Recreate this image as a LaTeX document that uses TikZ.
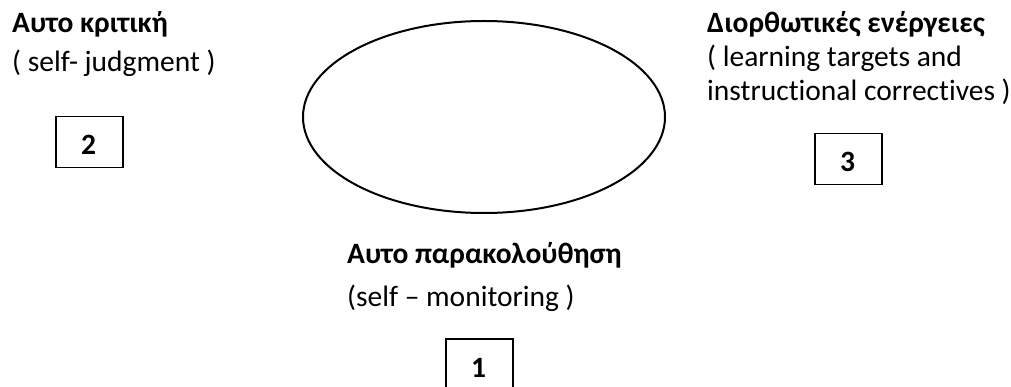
\documentclass[tikz,border=0pt]{standalone}
\usepackage{fontspec}
\setmainfont{Carlito}[Ligatures=CommonOff]
\usetikzlibrary{shapes.geometric}
\tikzset{
  txt/.style={anchor=base west, inner sep=0pt, font=\fontsize{29.5}{35}\selectfont},
  btxt/.style={txt, font=\fontsize{29.5}{35}\selectfont\bfseries},
  numbox/.style={draw, line width=1.5pt, minimum width=67pt, minimum height=51pt, inner sep=0pt, anchor=north west},
  num/.style={anchor=base, inner sep=0pt, font=\fontsize{29.5}{35}\selectfont\bfseries},
  oval/.style={draw, ellipse, line width=2pt, minimum width=362pt, minimum height=192pt, inner sep=0pt}
}
\begin{document}
\begin{tikzpicture}[x=1pt,y=-1pt]
\useasboundingbox (0,0) rectangle (1011,387);
% ellipse
\node[oval] (cycle) at (484,117) {};
% left
\node[btxt] (t2a) at (12,33) {Αυτο κριτική};
\node[txt] (t2b) at (12,72) {( self- judgment )};
\node[numbox] (b2) at (55,116) {};
\node[num] (n2) at (88.5,155) {2};
% right
\node[btxt] (t3a) at (707,33) {Διορθωτικές ενέργειες};
\node[txt] (t3b) at (707,67) {( learning targets and};
\node[txt] (t3c) at (707,101) {instructional correctives )};
\node[numbox] (b3) at (814,133) {};
\node[num] (n3) at (847.5,172) {3};
% bottom
\node[btxt] (t1a) at (347,263) {Αυτο παρακολούθηση};
\node[txt] (t1b) at (347,306) {(self – monitoring )};
\node[numbox, minimum height=70pt] (b1) at (445,338) {};
\node[num] (n1) at (478.5,377) {1};
\end{tikzpicture}
\end{document}
